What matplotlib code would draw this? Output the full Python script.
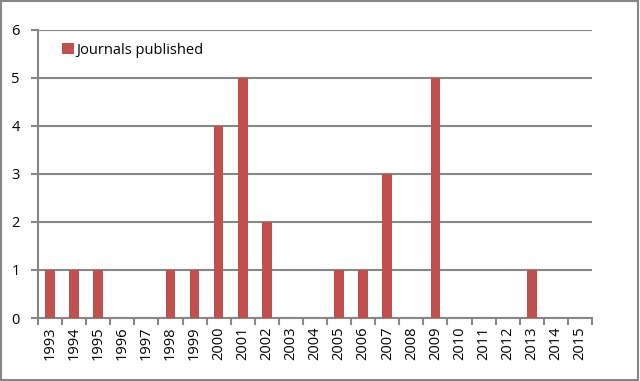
import matplotlib.pyplot as plt
import numpy as np

years = ['1993', '1994', '1995', '1996', '1997', '1998', '1999', '2000', '2001', '2002', '2003', '2004',
         '2005', '2006', '2007', '2008', '2009', '2010', '2011', '2012', '2013', '2014', '2015']
journals = [1, 1, 1, 0, 0, 1, 1, 4, 5, 2, 0, 0, 1, 1, 3, 0, 5, 0, 0, 0, 1, 0, 0]

plt.rcParams['font.family'] = ['Open Sans', 'DejaVu Sans']
grey = '#868686'

fig = plt.figure(figsize=(6.4, 3.81), dpi=100)
ax = fig.add_axes([38/640, 1 - 318/381, (592 - 38)/640, (318 - 29.5)/381])

x = np.arange(len(years))
ax.bar(x, journals, width=0.4, color='#C0504D', label='Journals published', zorder=3)

ax.set_xlim(-0.5, len(years) - 0.5)
ax.set_ylim(0, 6)
ax.set_yticks(range(7))
ax.yaxis.grid(True, color=grey, linewidth=1.5, zorder=0)
ax.set_xticks(x)
ax.set_xticklabels(years, rotation=90, fontsize=10.5)
ax.set_xticks(np.arange(-0.5, len(years)), minor=True)
ax.tick_params(axis='x', which='major', length=0, pad=6)
ax.tick_params(axis='x', which='minor', length=5, width=1.5, color=grey, direction='out')
ax.tick_params(axis='y', length=5, width=1.5, color=grey, labelsize=10.5, pad=8)

for s in ['top', 'right']:
    ax.spines[s].set_visible(False)
for s in ['left', 'bottom']:
    ax.spines[s].set_color(grey)
    ax.spines[s].set_linewidth(1.5)

ax.legend(loc='upper left', bbox_to_anchor=(0.02, 1.0), frameon=False, fontsize=10.5,
          handlelength=0.8, handleheight=0.8, handletextpad=0.15)

fig.patches.append(plt.Rectangle((0.002, 0.003), 0.995, 0.994, transform=fig.transFigure,
                                 fill=False, edgecolor=grey, linewidth=1.5))

plt.savefig('out.png', dpi=100)
